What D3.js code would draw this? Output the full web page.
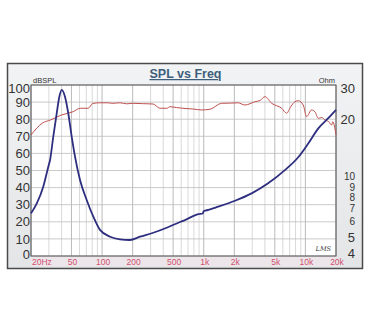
<!DOCTYPE html>
<html><head><meta charset="utf-8">
<script src="https://cdn.jsdelivr.net/npm/d3@7/dist/d3.min.js"></script>
<style>html,body{margin:0;padding:0;background:#fff;}svg{display:block;}</style>
</head><body>
<script>
const splFreq = [20,26,31,40,52,61,73,81,95,112,128,150,175,201,250,317,371,434,465,540,625,800,953,1150,1500,1800,2170,2540,3190,3600,4000,4660,5840,6540,7200,7890,8500,9520,10280,11500,12400,13400,14500,15600,17000,18100,18600,20000];
const splDb   = [70.8,77.8,79.5,82.5,84.4,86.4,86.4,89.2,89.6,89.6,89.3,89.6,89.0,89.3,89.1,88.9,86.4,86.4,87.3,86.8,86.4,85.9,85.4,85.8,89.3,89.4,89.6,88.3,90.2,91.0,93.2,89.3,86.4,83.5,87.5,90.2,90.8,88.3,81.5,85.4,84.4,80.5,81.0,79.5,78.5,76.6,78.5,70.8];
const impFreq = [20,22.8,26.4,29.6,30.8,33.1,35.8,38,40.1,43.2,46.5,50.3,54.2,60.7,70.6,82,95.4,120,150,188,236,319,432,584,653,884,980,1000,1028,1390,2028,2960,4300,6280,8500,10700,13400,16800,20000];
const impOhm  = [6.61,7.44,9.05,11.45,12.4,16.3,21.5,26.1,28.3,26.1,21.5,16.3,12.9,9.8,7.74,6.36,5.44,5.02,4.87,4.83,5.02,5.26,5.58,5.97,6.11,6.55,6.6,6.8,6.82,7.15,7.67,8.37,9.42,11.0,12.8,15.1,18.0,20.3,22.4];
const leftTicks = [0,10,20,30,40,50,60,70,80,90,100];
const rightTicks = [4,5,6,7,8,9,10,20,30];
const xTicks = [20,50,100,200,500,1000,2000,5000,10000,20000];
const xTickLabels = ["20Hz","50","100","200","500","1k","2k","5k","10k","20k"];

const W = 370, H = 333;
const svg = d3.select("body").append("svg").attr("width", W).attr("height", H);
const defs = svg.append("defs");
const g1 = defs.append("linearGradient").attr("id","bg").attr("x1",0).attr("y1",0).attr("x2",0).attr("y2",1);
g1.append("stop").attr("offset","0%").attr("stop-color","#f2f3f4");
g1.append("stop").attr("offset","100%").attr("stop-color","#e3e5e7");

// frame
svg.append("rect").attr("x",7.5).attr("y",63.5).attr("width",355).attr("height",205)
  .attr("fill","url(#bg)").attr("stroke","#4a4a4a").attr("stroke-width",1.5);

const L = 31, R = 336, T = 85, B = 256;
const x = d3.scaleLog().domain([20,20000]).range([L,R]);
const yL = d3.scaleLinear().domain([0,100]).range([B,T]);
const yR = d3.scaleLog().domain([4,30]).range([B,T]);

// x label strip
svg.append("rect").attr("x",L).attr("y",B).attr("width",R-L).attr("height",10).attr("fill","#ece6ea");
svg.append("rect").attr("x",L).attr("y",T).attr("width",R-L).attr("height",B-T).attr("fill","#fff");

// grid
const minor = [];
for (let d=10; d<=10000; d*=10) for (let k=1;k<=9;k++){ const f=d*k; if (f>=20 && f<=20000) minor.push(f); }
svg.append("g").selectAll("line").data(minor).join("line")
  .attr("x1",d=>x(d)).attr("x2",d=>x(d)).attr("y1",T).attr("y2",B)
  .attr("stroke",d=>xTicks.includes(d)?"#a8a8a8":"#cfcfcf").attr("stroke-width",0.8);
svg.append("g").selectAll("line").data(leftTicks).join("line")
  .attr("x1",L).attr("x2",R).attr("y1",d=>yL(d)).attr("y2",d=>yL(d))
  .attr("stroke","#bdbdbd").attr("stroke-width",0.8);

svg.append("rect").attr("x",L).attr("y",T).attr("width",R-L).attr("height",B-T)
  .attr("fill","none").attr("stroke","#555").attr("stroke-width",1);

// axes labels
svg.append("g").selectAll("text").data(leftTicks).join("text")
  .attr("x",L-1).attr("y",d=>Math.min(Math.max(yL(d),T+3),B-2)).attr("dy","0.36em")
  .attr("text-anchor","end").attr("font-family","Liberation Sans, Arial, sans-serif")
  .attr("font-size",13).attr("fill","#333").text(d=>d);
svg.append("g").selectAll("text").data(rightTicks).join("text")
  .attr("x",355).attr("y",d=>Math.min(Math.max(yR(d),T+3),B-3) - (d===10?1.5:0)).attr("dy","0.36em")
  .attr("text-anchor","end").attr("font-family","Liberation Sans, Arial, sans-serif")
  .attr("font-size",d=>(d>=6 && d<=10)?10:13).attr("fill","#333").text(d=>d);
svg.append("g").selectAll("text").data(xTicks).join("text")
  .attr("x",d=>x(d)+1).attr("y",B+8.5)
  .attr("text-anchor",(d,i)=> i===0 ? "start" : "middle")
  .attr("font-family","Liberation Sans, Arial, sans-serif")
  .attr("font-size",8.5).attr("fill","#d0506e").text((d,i)=>xTickLabels[i]);

svg.append("text").attr("x",L+2).attr("y",T-2).attr("font-family","Liberation Sans, Arial, sans-serif")
  .attr("font-size",7.5).attr("fill","#333").text("dBSPL");
svg.append("text").attr("x",R-1).attr("y",T-2).attr("text-anchor","end").attr("font-family","Liberation Sans, Arial, sans-serif")
  .attr("font-size",7.5).attr("fill","#333").text("Ohm");
svg.append("text").attr("x",(L+R)/2+2).attr("y",78).attr("text-anchor","middle")
  .attr("font-family","Liberation Sans, Arial, sans-serif").attr("font-weight","bold")
  .attr("font-size",12.5).attr("fill","#3d5f7c").attr("text-decoration","underline").text("SPL vs Freq");
svg.append("text").attr("x",R-5).attr("y",B-5).attr("text-anchor","end")
  .attr("font-family","DejaVu Serif, serif").attr("font-style","italic")
  .attr("font-size",6.5).attr("fill","#333").text("LMS");

// curves
const splLine = d3.line().x((d,i)=>x(splFreq[i])).y(d=>yL(d)).curve(d3.curveMonotoneX);
svg.append("path").attr("d",splLine(splDb)).attr("fill","none").attr("stroke","#c0504d").attr("stroke-width",1);
const impLine = d3.line().x((d,i)=>x(impFreq[i])).y(d=>yR(d)).curve(d3.curveMonotoneX);
svg.append("path").attr("d",impLine(impOhm)).attr("fill","none").attr("stroke","#2e2e80").attr("stroke-width",1.8);
</script>
</body></html>
